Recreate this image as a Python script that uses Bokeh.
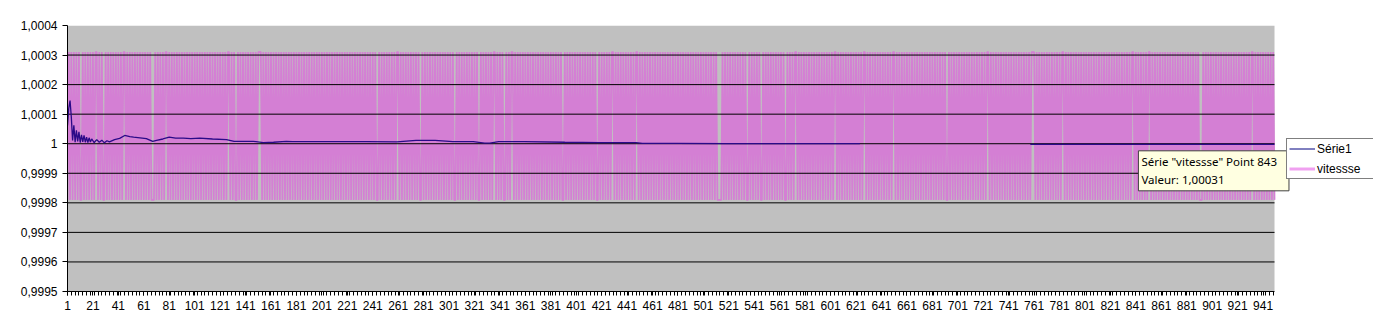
import math
from bokeh.plotting import figure
from bokeh.models import (Range1d, FixedTicker, CustomJSTickFormatter, Legend,
                          LegendItem, Label)
from bokeh.embed import file_html
from bokeh.resources import INLINE

# ---------------- data ----------------
N_POINTS = 950
# vitesse oscillates point to point between a high and a low level
vitesse_levels = [1.00031, 0.99981]          # [high, low]
vitesse_first_level = 1                       # point 1 is at the low level
# points whose value equals the previous point (no alternation there)
vitesse_repeats = [12, 24, 30, 46, 68, 69, 79, 128, 134, 152, 153, 245, 261,
                   279, 306, 325, 337, 345, 351, 391, 418, 430, 449, 513, 514,
                   515, 536, 547, 566, 574, 605, 628, 651, 693, 725, 760, 761,
                   784, 839, 852, 892, 893, 933]

# Série1 (running value), read at these point numbers; NaN = no data
serie1_x = [1, 2, 3, 4, 5, 6, 7, 8, 9, 10, 11, 12, 13, 14, 15, 16, 17, 18, 19,
            20, 22, 24, 26, 28, 30, 32, 34, 38, 42, 46, 50, 53, 58, 63, 68, 71,
            76, 81, 86, 92, 98, 105, 115, 126, 132, 140, 147, 155, 163, 173,
            178, 200, 236, 260, 275, 290, 304, 320, 329, 333, 340, 360, 392,
            420, 448, 453, 480, 520, 560, 600, 624, 691, 758, 800, 850, 900,
            950]
serie1_y = [1.000062, 1.000120, 1.000146, 1.000090, 1.000011, 1.000062,
            1.000005, 1.000045, 1.000008, 1.000040, 1.000004, 1.000030,
            1.000006, 1.000028, 1.000005, 1.000022, 1.000004, 1.000020,
            1.000006, 1.000016, 1.000004, 1.000014, 1.000005, 1.000012,
            1.000003, 1.000010, 1.000006, 1.000014, 1.000018, 1.000028,
            1.000024, 1.000022, 1.000020, 1.000017, 1.000008, 1.000011,
            1.000016, 1.000022, 1.000019, 1.000019, 1.000017, 1.000019,
            1.000016, 1.000014, 1.000008, 1.000008, 1.000008, 1.000004,
            1.000005, 1.000008, 1.000007, 1.000007, 1.000007, 1.000006,
            1.000011, 1.000011, 1.000007, 1.000007, 1.000002, 1.000002,
            1.000007, 1.000007, 1.000005, 1.000004, 1.000004, 1.000001,
            1.000001, 1.000000, 1.000000, 1.000000, 1.000000, float("nan"),
            0.999998, 0.999998, 0.999998, 0.999998, 0.999998]

y_ticks = [0.9995, 0.9996, 0.9997, 0.9998, 0.9999, 1.0, 1.0001, 1.0002,
           1.0003, 1.0004]
x_label_ticks = list(range(1, 942, 20))
tooltip_point = 843
tooltip_value = "1,00031"

# ---------------- build the vitesse series ----------------
rep = set(vitesse_repeats)
vitesse = []
lvl = vitesse_first_level
for k in range(1, N_POINTS + 1):
    if k > 1 and k not in rep:
        lvl = 1 - lvl
    vitesse.append(vitesse_levels[lvl])
points = list(range(1, N_POINTS + 1))

FONT = "Liberation Sans"
Y0, Y1 = y_ticks[0], y_ticks[-1]

# frame runs to the right edge of the page; the grey plot area stops at the
# last point, the rest of the frame holds the legend (as in the Excel chart)
px_per_pt = (1274 - 67) / (N_POINTS - 1)
x_end = N_POINTS + (1373 - 1274) / px_per_pt

p = figure(width=1373, height=331, output_backend="svg", toolbar_location=None,
           x_range=Range1d(1, x_end), y_range=Range1d(Y0, Y1),
           min_border_left=67, min_border_right=0, min_border_top=25,
           min_border_bottom=40)
p.background_fill_color = "white"
p.border_fill_color = "white"
p.outline_line_color = None
p.xgrid.visible = False
p.ygrid.visible = False

# grey plot area
p.quad(left=[1], right=[N_POINTS], bottom=[Y0], top=[Y1],
       fill_color="#c0c0c0", line_color=None)

# vitesse zig-zag
r_vit = p.line(points, vitesse, line_color="#d47fd4", line_width=1.75)

# horizontal gridlines (drawn over the pink band, like Excel shows them)
grid_y = y_ticks[1:-1]
p.segment(x0=[1] * len(grid_y), x1=[N_POINTS] * len(grid_y), y0=grid_y,
          y1=grid_y, line_color="black", line_width=1)

# Série1 on top
r_s1 = p.line(serie1_x, serie1_y, line_color="#2a0a88", line_width=1.3)

# axes
p.yaxis.ticker = FixedTicker(ticks=y_ticks)
p.yaxis.formatter = CustomJSTickFormatter(
    code="const s = String(parseFloat(tick.toFixed(4))); return s.replace('.', ',');")
p.yaxis.major_tick_out = 5
p.yaxis.major_tick_in = 0
p.yaxis.minor_tick_line_color = None
p.yaxis.major_label_standoff = 5
p.yaxis.axis_line_color = "black"
p.yaxis.major_tick_line_color = "black"

x_minor = list(range(1, N_POINTS + 1, 3))
p.xaxis.ticker = FixedTicker(ticks=x_label_ticks, minor_ticks=x_minor)
p.xaxis.bounds = (1, N_POINTS)
p.xaxis.major_tick_out = 4
p.xaxis.major_tick_in = 0
p.xaxis.minor_tick_out = 4
p.xaxis.minor_tick_in = 0
p.xaxis.minor_tick_line_color = "black"
p.xaxis.major_tick_line_color = "black"
p.xaxis.axis_line_color = "black"
p.xaxis.major_label_standoff = 5

for ax in (p.xaxis[0], p.yaxis[0]):
    ax.major_label_text_font = FONT
    ax.major_label_text_font_size = "12px"
    ax.major_label_text_color = "black"

# legend (styled like the Excel legend keys)
leg_s1 = p.line([float("nan")], [float("nan")], line_color="#000080", line_width=1)
leg_vit = p.line([float("nan")], [float("nan")], line_color="#f0a0f0", line_width=3)
legend = Legend(items=[LegendItem(label="Série1", renderers=[leg_s1]),
                       LegendItem(label="vitessse", renderers=[leg_vit])],
                location=(1219, 112), orientation="vertical",
                padding=2, spacing=5, margin=0, label_height=15, glyph_height=15,
                glyph_width=26, label_standoff=2, label_width=90,
                label_text_font=FONT, label_text_font_size="12px",
                label_text_color="black", label_text_line_height=1.0,
                border_line_color="black", border_line_width=1,
                background_fill_color="white", background_fill_alpha=1)
p.add_layout(legend)

# tooltip box
tip_text = 'Série "vitessse" Point %d\nValeur: %s' % (tooltip_point, tooltip_value)
tip_y = 0.999976
tip_pad = (3, 12, 3, 4)
shadow = Label(x=tooltip_point, y=tip_y, x_units="data", y_units="data",
               x_offset=3, y_offset=-3, text=tip_text, text_alpha=0,
               text_font="Noto Sans", text_font_size="11.5px",
               text_line_height=1.2,
               text_baseline="top", padding=tip_pad,
               background_fill_color="#707070", background_fill_alpha=0.45)
tip = Label(x=tooltip_point, y=tip_y, x_units="data", y_units="data",
            text=tip_text, text_color="black",
            text_font="Noto Sans", text_font_size="11.5px",
            text_line_height=1.2,
            text_baseline="top", padding=tip_pad,
            background_fill_color="#ffffe1", background_fill_alpha=1,
            border_line_color="#404040", border_line_width=1)
p.add_layout(shadow)
p.add_layout(tip)

open("out.html", "w").write(file_html(p, INLINE))
